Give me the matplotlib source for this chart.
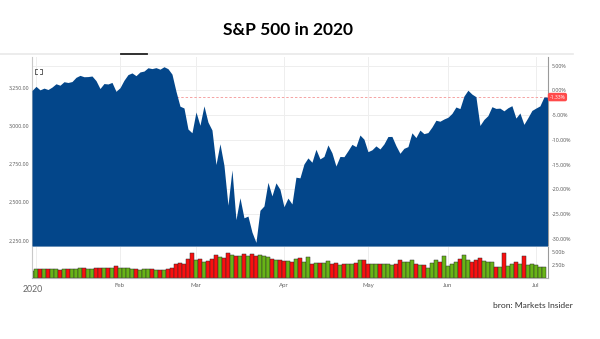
import matplotlib
matplotlib.use("Agg")
import matplotlib.pyplot as plt
import numpy as np
import pandas as pd
from matplotlib.lines import Line2D
from matplotlib.transforms import blended_transform_factory, ScaledTranslation

plt.rcParams['font.family'] = ['Lato', 'DejaVu Sans']

# ---------------- data ----------------
holidays = ['2020-01-01', '2020-01-20', '2020-02-17', '2020-04-10', '2020-05-25', '2020-07-03']
dates = pd.bdate_range('2019-12-31', '2020-07-06').difference(pd.to_datetime(holidays))

prev_close = 3221.29
closes = [
    3230.78,
    3257.85, 3234.85, 3246.28, 3237.18, 3253.05, 3274.70, 3265.35, 3288.13, 3283.15, 3289.29,
    3316.81, 3329.62, 3320.79, 3321.75, 3325.54, 3295.47, 3243.63, 3276.24, 3273.40, 3283.66, 3225.52,
    3248.92, 3297.59, 3334.69, 3345.78, 3327.71, 3352.09, 3357.75, 3379.45, 3373.94, 3380.16,
    3370.29, 3386.15, 3373.23, 3337.75, 3225.89, 3128.21, 3116.39, 2978.76, 2954.22,
    3090.23, 3003.37, 3130.12, 3023.94, 2972.37, 2746.56, 2882.23, 2741.38, 2480.64, 2711.02,
    2386.13, 2529.19, 2398.10, 2409.39, 2304.92, 2237.40, 2447.33, 2475.56, 2630.07, 2541.47,
    2626.65, 2584.59,
    2470.50, 2526.90, 2488.65, 2663.68, 2659.41, 2749.98, 2789.82, 2761.63, 2846.06, 2783.36,
    2799.55, 2874.56, 2823.16, 2736.56, 2799.31, 2797.80, 2836.74, 2878.48, 2863.39, 2939.51, 2912.43,
    2830.71, 2842.74, 2868.44, 2848.42, 2881.19, 2929.80, 2930.32, 2870.12, 2820.00, 2852.50,
    2863.70, 2953.91, 2922.94, 2971.61, 2948.51, 2955.45, 2991.77, 3036.13, 3029.73, 3044.31,
    3055.73, 3080.82, 3122.87, 3112.35, 3193.93, 3232.39, 3207.18, 3190.14, 3002.10, 3041.31,
    3066.59, 3124.74, 3113.49, 3115.34, 3097.74, 3117.86, 3131.29, 3050.33, 3083.76, 3009.05,
    3053.24, 3100.29,
    3115.86, 3130.01, 3187.80,
]

volumes_b = [
    1.30,
    1.70, 1.65, 1.70, 1.75, 1.75, 1.70, 1.60, 1.65, 1.75, 1.70,
    1.70, 1.95, 1.95, 1.65, 1.80, 1.90, 1.90, 1.90, 1.85, 1.95, 2.40,
    1.90, 1.90, 1.95, 1.75, 1.70, 1.60, 1.65, 1.65, 1.70, 1.50,
    1.60, 1.55, 1.75, 2.00, 2.60, 2.90, 2.75, 3.60, 4.85,
    3.55, 3.60, 3.00, 3.30, 3.70, 4.40, 4.00, 3.90, 4.80, 4.40,
    4.30, 4.20, 4.60, 4.30, 4.70, 4.30, 4.50, 4.20, 4.00, 3.60,
    3.40, 3.50,
    3.20, 3.30, 3.00, 3.60, 3.80, 3.00, 4.10, 2.60, 2.90, 2.90,
    2.90, 3.20, 2.70, 2.80, 2.50, 2.70, 2.60, 2.60, 2.90, 3.50, 3.40,
    2.70, 2.70, 2.70, 2.60, 2.60, 2.60, 2.50, 2.60, 3.40, 3.00,
    3.10, 3.50, 2.60, 2.50, 2.50, 2.00, 2.90, 3.50, 3.00, 4.20,
    2.40, 2.60, 3.00, 3.60, 4.50, 3.40, 3.00, 3.40, 3.80, 3.20,
    3.10, 3.10, 2.20, 2.20, 4.80, 2.40, 2.60, 3.00, 2.60, 4.20,
    2.50, 2.60,
    2.50, 2.20, 2.20,
]

month_labels = ['2020', 'Feb', 'Mar', 'Apr', 'May', 'Jun', 'Jul']
month_numbers = [1, 2, 3, 4, 5, 6, 7]
price_ticks = [2250, 2500, 2750, 3000, 3250]
pct_ticks = [-30, -25, -20, -15, -10, -5, 0, 5]
vol_ticks = [2.5, 5.0]
title = 'S&P 500 in 2020'
source = 'bron: Markets Insider'

# ---------------- styling ----------------
BLUE = '#03468a'
GREEN = '#68b416'
RED = '#fa0f0f'
TICKFONT = ['Open Sans', 'DejaVu Sans']
W, H = 600, 339

def frac(l, t, r, b):
    return [l / W, 1 - b / H, (r - l) / W, (b - t) / H]

n = len(closes)
x = np.arange(n)
base = closes[0]
pct_hi, pct_lo = 6.78, -31.48
p_hi = base * (1 + pct_hi / 100)
p_lo = base * (1 + pct_lo / 100)
xmax = n - 1 + 0.9

month_idx = [int(np.where((dates.year == 2020) & (dates.month == m))[0][0]) for m in month_numbers]

fig = plt.figure(figsize=(W / 100, H / 100), dpi=100)
fig.patch.set_facecolor('white')

ax = fig.add_axes(frac(32, 57, 547.5, 246))
axv = fig.add_axes(frac(32, 247, 547.5, 278))

# main area
ax.set_xlim(0, xmax)
ax.set_ylim(p_lo, p_hi)
ax.fill_between(np.append(x, xmax), np.append(closes, closes[-1]), p_lo,
                color=BLUE, lw=0, zorder=3)
for p in pct_ticks:
    ax.axhline(base * (1 + p / 100), color='#eeeeee', lw=0.7, zorder=1)
for mi in month_idx:
    ax.axvline(mi, color='#eeeeee', lw=0.7, zorder=1)
last_pct = (closes[-1] / base - 1) * 100
ax.axhline(closes[-1], color='#f5a3a3', lw=0.7, ls=(0, (2.5, 2)), zorder=2)

ax.set_xticks([])
ax.set_yticks(price_ticks)
ax.set_yticklabels([f'{v:,.2f}' for v in price_ticks], family=TICKFONT)
ax.tick_params(axis='y', labelsize=3.7, colors='#555555', length=0, pad=2)
ax.spines['top'].set_visible(False)
ax.spines['left'].set_color('#c8c8c8')
ax.spines['left'].set_linewidth(0.8)
ax.spines['right'].set_color('#9a9a9a')
ax.spines['right'].set_linewidth(0.8)
ax.spines['bottom'].set_color('#c9d3de')
ax.spines['bottom'].set_linewidth(0.6)

sec = ax.secondary_yaxis('right', functions=(lambda p: (p / base - 1) * 100,
                                              lambda q: base * (1 + q / 100)))
sec.set_yticks(pct_ticks)
sec.set_yticklabels([f'{v:.2f}%' for v in pct_ticks], family=TICKFONT)
sec.tick_params(labelsize=3.8, colors='#555555', length=0, pad=3)
sec.spines['right'].set_visible(False)

# current value label
tr = blended_transform_factory(ax.transAxes, ax.transData)
ax.text(1.004, closes[-1], f'{last_pct:.2f}%', transform=tr, ha='left', va='center',
        fontsize=3.6, color='white', zorder=10, family=TICKFONT,
        bbox=dict(boxstyle='round,pad=0.35,rounding_size=0.4', fc='#ff4a4a', ec='none'))

# volume
prev = [prev_close] + closes[:-1]
colors = [GREEN if c >= p else RED for c, p in zip(closes, prev)]
axv.set_xlim(0, xmax)
axv.set_ylim(0, 5.96)
for mi in month_idx:
    axv.axvline(mi, color='#eeeeee', lw=0.7, zorder=0)
axv.bar(x, volumes_b, width=0.92, color=colors, edgecolor='#2e2e2e', linewidth=0.35, zorder=2)
axv.set_xticks(month_idx)
axv.set_xticklabels(month_labels)
axv.tick_params(axis='x', labelsize=4.4, colors='#666666', length=0, pad=3.5)
axv.set_yticks([])
labs = axv.get_xticklabels()
labs[0].set_fontsize(6.3)
labs[0].set_transform(labs[0].get_transform() + ScaledTranslation(-2 / 72, -1.5 / 72, fig.dpi_scale_trans))
axv.spines['top'].set_visible(False)
axv.spines['left'].set_color('#c8c8c8')
axv.spines['left'].set_linewidth(0.8)
axv.spines['right'].set_color('#9a9a9a')
axv.spines['right'].set_linewidth(0.8)
axv.spines['bottom'].set_color('#b0b0b0')
axv.spines['bottom'].set_linewidth(0.8)

secv = axv.twinx()
secv.set_ylim(axv.get_ylim())
secv.set_yticks(vol_ticks)
secv.set_yticklabels([f'{v:.2f}b' for v in vol_ticks], family=TICKFONT)
secv.tick_params(labelsize=3.8, colors='#555555', length=0, pad=3)
for s in secv.spines.values():
    s.set_visible(False)

# title and source
fig.text(288 / W, 1 - 30 / H, title, ha='center', va='center', fontsize=12.5,
         fontweight='bold', color='black')
fig.text(573 / W, 1 - 305 / H, source, ha='right', va='center', fontsize=6.1, color='#333333')

# top separator decoration
fig.add_artist(Line2D([0, 573 / W], [1 - 54 / H, 1 - 54 / H], color='#e9e9e9', lw=1.2))
fig.add_artist(Line2D([121 / W, 147 / W], [1 - 53.5 / H, 1 - 53.5 / H], color='#222222', lw=1.3))
# expand icon
for cx, cy, dx, dy in [(35, 69, 1, 1), (42, 69, -1, 1), (35, 73.5, 1, -1), (42, 73.5, -1, -1)]:
    fig.add_artist(Line2D([cx / W, cx / W, (cx + 2 * dx) / W],
                          [1 - (cy + 2 * dy) / H, 1 - cy / H, 1 - cy / H],
                          color='#444444', lw=0.6))

fig.savefig('out.png', dpi=100, facecolor='white')
